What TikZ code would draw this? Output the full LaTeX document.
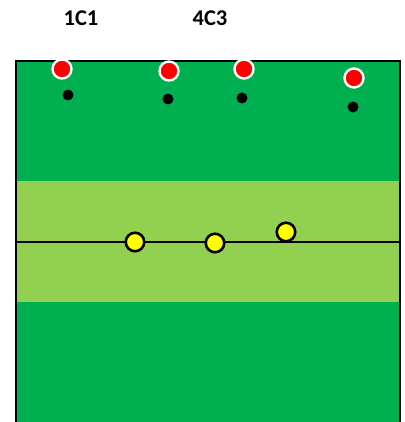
\documentclass[tikz,border=0pt]{standalone}
\usepackage{fontspec}
\setmainfont{Carlito}
\definecolor{fielddark}{HTML}{00B050}
\definecolor{fieldlight}{HTML}{92D050}
\definecolor{ballyellow}{HTML}{FFFF00}
\definecolor{playerred}{HTML}{FF0000}
\begin{document}
\begin{tikzpicture}[x=1pt,y=-1pt,
  reddot/.style={circle,fill=playerred,draw=white,line width=2.4pt,minimum size=19pt,inner sep=0pt},
  blackdot/.style={circle,fill=black,minimum size=11pt,inner sep=0pt},
  yellowdot/.style={circle,fill=ballyellow,draw=black,line width=2.6pt,minimum size=18.5pt,inner sep=0pt},
  lbl/.style={font=\fontsize{22.5}{24}\selectfont\bfseries,inner sep=0pt},
  border/.style={line width=2.2pt,black}]
\useasboundingbox (0,0) rectangle (404,422);
\fill[white] (0,0) rectangle (404,422);
\fill[fielddark] (16,61) rectangle (400,422);
\fill[fieldlight] (16,181) rectangle (400,302);
\coordinate (ml) at (16,242);
\coordinate (mr) at (400,242);
\draw[line width=1.6pt] (ml) -- (mr);
\draw[border] (16,422) -- (16,61) -- (400,61) -- (400,422);
\node[lbl] (l1) at (81,18) {1C1};
\node[lbl] (l2) at (210,18) {4C3};
\node[reddot] (r1) at (62,69) {};
\node[reddot] (r2) at (169,71) {};
\node[reddot] (r3) at (244,69) {};
\node[reddot] (r4) at (354,78) {};
\node[blackdot] (b1) at (68,95) {};
\node[blackdot] (b2) at (168,99) {};
\node[blackdot] (b3) at (242,98) {};
\node[blackdot] (b4) at (353,107) {};
\node[yellowdot] (y1) at (135,242) {};
\node[yellowdot] (y2) at (215,243) {};
\node[yellowdot] (y3) at (286,232) {};
\end{tikzpicture}
\end{document}
